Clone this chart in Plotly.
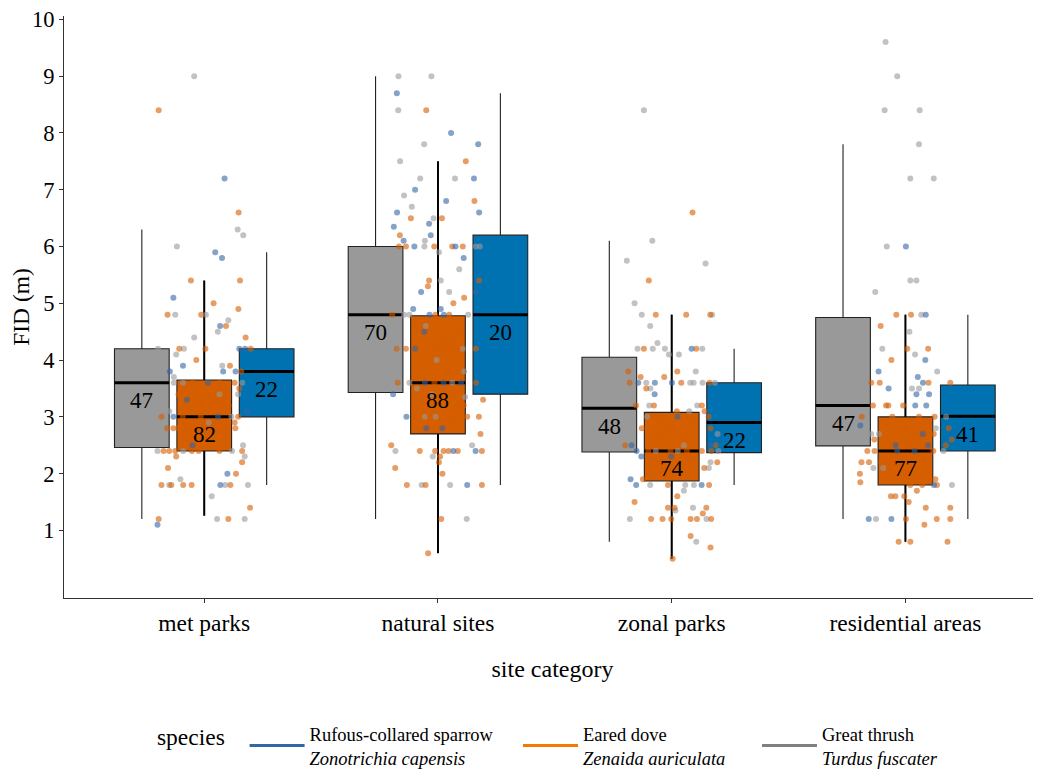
import plotly.graph_objects as go

# ---------------- data ----------------
sites = ["met parks", "natural sites", "zonal parks", "residential areas"]
species = ["Great thrush", "Eared dove", "Rufous-collared sparrow"]
species_latin = ["Turdus fuscater", "Zenaida auriculata", "Zonotrichia capensis"]

# sample sizes (per site, per species)
n_thrush = [47, 70, 48, 47]
n_dove = [82, 88, 74, 77]
n_sparrow = [22, 20, 22, 41]

# box statistics
thrush_q1 = [2.46, 3.43, 2.38, 2.49]
thrush_med = [3.6, 4.8, 3.15, 3.2]
thrush_q3 = [4.2, 6.0, 4.05, 4.75]
thrush_lo = [1.2, 1.2, 0.8, 1.2]
thrush_hi = [6.3, 9.0, 6.1, 7.8]

dove_q1 = [2.4, 2.7, 1.87, 1.8]
dove_med = [3.0, 3.6, 2.4, 2.4]
dove_q3 = [3.65, 4.78, 3.08, 3.0]
dove_lo = [1.26, 0.6, 0.5, 0.8]
dove_hi = [5.4, 7.5, 4.8, 4.8]

sparrow_q1 = [3.0, 3.4, 2.37, 2.4]
sparrow_med = [3.8, 4.8, 2.9, 3.01]
sparrow_q3 = [4.2, 6.2, 3.6, 3.56]
sparrow_lo = [1.8, 1.8, 1.8, 1.2]
sparrow_hi = [5.9, 8.7, 4.2, 4.8]

# jittered observations: (horizontal jitter, FID in m), per site and species
met_thrush = [(-0.043, 9.0), (0.143, 6.3), (0.167, 6.2), (-0.117, 6.0), (-0.124, 4.8), (0.007, 4.8), (0.103, 4.7),
              (0.058, 4.5), (-0.043, 4.4), (-0.198, 4.2), (-0.087, 4.2), (-0.12, 4.1), (0.077, 3.9), (-0.13, 3.7),
              (-0.13, 3.6), (-0.091, 3.6), (0.163, 3.6), (0.065, 3.4), (0.145, 3.4), (-0.15, 3.1), (0.116, 3.0),
              (0.019, 2.9), (0.166, 2.5), (-0.2, 2.4), (-0.09, 2.4), (0.119, 2.4), (0.173, 2.3), (-0.102, 1.9),
              (-0.15, 1.8), (0.09, 1.8), (0.187, 1.8), (0.032, 1.6), (0.055, 1.2), (0.173, 1.2)]
met_dove = [(-0.195, 8.4), (0.147, 6.6), (-0.057, 5.4), (0.153, 5.4), (0.04, 5.0), (0.146, 4.9), (-0.157, 4.8),
            (-0.013, 4.8), (0.093, 4.6), (0.177, 4.4), (-0.107, 4.2), (0.005, 4.2), (0.199, 4.2), (-0.034, 4.0),
            (0.11, 3.9), (0.159, 3.8), (-0.05, 3.6), (0.065, 3.6), (0.13, 3.6), (0.067, 3.5), (0.15, 3.5),
            (-0.11, 3.4), (0.036, 3.3), (-0.01, 3.2), (0.041, 3.2), (0.069, 3.2), (0.104, 3.2), (-0.183, 3.0),
            (-0.092, 3.0), (-0.015, 3.0), (0.145, 3.0), (-0.076, 2.9), (0.13, 2.9), (-0.159, 2.8), (-0.132, 2.8),
            (-0.11, 2.8), (-0.053, 2.8), (0.133, 2.8), (-0.174, 2.4), (-0.15, 2.4), (-0.124, 2.4), (-0.053, 2.4),
            (-0.024, 2.4), (0.065, 2.4), (0.162, 2.4), (-0.12, 2.3), (0.162, 2.2), (-0.155, 2.1), (0.136, 2.0),
            (-0.183, 1.8), (-0.141, 1.8), (-0.09, 1.8), (-0.054, 1.8), (0.112, 1.8), (0.196, 1.4), (-0.195, 1.2),
            (0.103, 1.2)]
met_sparrow = [(0.087, 7.2), (0.047, 5.9), (0.076, 5.8), (-0.132, 5.1), (0.068, 4.6), (0.15, 4.2), (0.175, 4.2),
               (-0.091, 3.9), (-0.147, 3.8), (0.081, 3.8), (0.134, 3.8), (0.016, 3.6), (-0.074, 3.3), (0.184, 3.1),
               (-0.132, 3.0), (0.059, 3.0), (-0.05, 2.5), (0.099, 2.0), (0.069, 1.8), (-0.2, 1.1)]

nat_thrush = [(-0.169, 9.0), (-0.028, 9.0), (-0.17, 8.4), (-0.059, 7.8), (-0.162, 7.5), (-0.076, 7.2), (0.073, 7.2),
              (-0.145, 6.9), (-0.112, 6.7), (-0.019, 6.5), (-0.056, 6.1), (-0.058, 6.0), (0.162, 6.0), (0.179, 6.0),
              (0.004, 5.9), (0.091, 5.6), (0.012, 5.4), (0.048, 5.2), (-0.145, 4.8), (-0.122, 4.8), (0.129, 4.8),
              (-0.052, 4.6), (0.106, 4.2), (-0.006, 4.0), (0.112, 3.8), (-0.122, 3.6), (0.061, 3.6), (-0.09, 3.5),
              (-0.026, 3.4), (0.116, 3.35), (-0.056, 3.0), (-0.011, 3.0), (0.146, 2.5), (-0.182, 2.4), (-0.022, 2.3),
              (-0.07, 1.8), (0.052, 1.8), (0.123, 1.2)]
nat_dove = [(-0.05, 8.4), (0.119, 7.5), (0.156, 6.8), (-0.116, 6.5), (0.017, 6.5), (-0.163, 6.2), (-0.167, 6.0),
            (-0.137, 6.0), (-0.016, 6.0), (0.061, 6.0), (0.106, 6.0), (-0.038, 5.4), (0.176, 5.4), (-0.043, 5.3),
            (0.112, 5.1), (0.066, 5.0), (-0.196, 4.8), (-0.011, 4.8), (0.048, 4.8), (-0.098, 4.6), (0.089, 4.5),
            (0.033, 4.3), (0.055, 4.3), (-0.177, 4.2), (-0.137, 4.2), (0.011, 4.2), (0.083, 4.2), (0.162, 4.2),
            (0.041, 3.8), (-0.172, 3.6), (-0.015, 3.6), (0.163, 3.6), (0.193, 3.3), (0.11, 3.2), (-0.1, 3.0),
            (-0.033, 3.0), (0.045, 3.0), (0.125, 3.0), (0.175, 3.0), (0.182, 2.7), (-0.2, 2.5), (-0.078, 2.4),
            (-0.012, 2.4), (0.024, 2.4), (0.045, 2.4), (0.085, 2.4), (0.188, 2.4), (0.009, 2.3), (0.004, 2.2),
            (-0.183, 2.1), (0.019, 2.0), (-0.133, 1.8), (-0.053, 1.8), (0.188, 1.8), (0.014, 1.2), (-0.042, 0.6)]
nat_sparrow = [(-0.176, 8.7), (0.056, 8.0), (0.172, 7.8), (0.154, 7.2), (-0.098, 7.0), (0.035, 6.8), (-0.175, 6.6),
               (0.176, 6.6), (-0.038, 6.4), (-0.189, 6.35), (-0.031, 6.2), (-0.147, 6.1), (-0.101, 6.0), (0.075, 6.0),
               (0.11, 5.8), (-0.072, 5.2), (0.163, 5.2), (-0.106, 4.9), (0.012, 4.9), (-0.036, 4.8), (0.025, 4.8),
               (-0.059, 4.5), (-0.098, 4.2), (-0.056, 3.6), (0.024, 3.6), (0.099, 3.6), (-0.192, 3.4), (-0.135, 3.0),
               (-0.05, 2.8), (0.019, 2.8), (0.066, 2.4), (0.161, 2.4), (0.125, 1.8)]

zon_thrush = [(-0.119, 8.4), (-0.083, 6.1), (-0.192, 5.75), (0.145, 5.7), (-0.159, 5.0), (-0.128, 4.8), (0.173, 4.8),
              (-0.092, 4.6), (-0.061, 4.3), (-0.146, 4.2), (-0.081, 4.2), (-0.029, 4.2), (0.131, 4.2), (-0.012, 4.1),
              (0.031, 4.1), (0.103, 3.8), (-0.109, 3.6), (0.079, 3.6), (0.094, 3.6), (0.132, 3.6), (0.185, 3.6),
              (-0.091, 3.5), (-0.096, 3.2), (0.109, 3.2), (0.075, 3.1), (-0.105, 3.0), (0.196, 2.7), (0.052, 2.5),
              (-0.068, 2.4), (0.026, 2.4), (0.2, 2.4), (0.166, 2.2), (0.159, 2.1), (-0.092, 1.8), (0.058, 1.8),
              (0.095, 1.8), (0.052, 1.7), (0.016, 1.35), (0.091, 1.4), (-0.179, 1.2), (0.149, 1.2), (0.105, 0.8)]
zon_dove = [(0.089, 6.6), (-0.098, 5.4), (-0.068, 4.8), (0.062, 4.8), (0.165, 4.8), (-0.119, 4.2), (0.105, 4.2),
            (-0.186, 3.8), (0.024, 3.8), (-0.133, 3.7), (-0.032, 3.7), (-0.18, 3.6), (0.041, 3.6), (0.162, 3.6),
            (-0.109, 3.5), (-0.153, 3.2), (-0.076, 3.2), (0.129, 3.2), (0.141, 3.1), (0.022, 3.1), (-0.073, 3.0),
            (-0.039, 3.0), (0.075, 3.0), (0.158, 3.0), (-0.022, 2.8), (0.008, 2.8), (-0.128, 2.8), (0.166, 2.8),
            (-0.066, 2.6), (0.068, 2.6), (-0.199, 2.5), (0.188, 2.5), (-0.1, 2.4), (-0.005, 2.4), (0.065, 2.4),
            (0.129, 2.4), (0.169, 2.4), (0.072, 2.3), (0.195, 2.2), (0.139, 2.1), (-0.123, 1.9), (-0.016, 1.8),
            (0.16, 1.8), (0.024, 1.6), (-0.159, 1.5), (-0.016, 1.4), (0.012, 1.4), (0.148, 1.4), (0.133, 1.3),
            (-0.088, 1.2), (-0.039, 1.2), (-0.002, 1.2), (0.081, 1.2), (0.108, 1.2), (0.169, 1.2), (0.081, 0.9),
            (0.166, 0.7), (0.004, 0.5)]
zon_sparrow = [(0.085, 4.2), (-0.143, 3.6), (-0.072, 3.6), (0.001, 3.6), (-0.073, 3.4), (0.025, 3.0), (-0.172, 2.5),
               (0.169, 2.5), (-0.15, 2.4), (-0.13, 2.3), (-0.002, 2.3), (-0.176, 1.9), (-0.152, 1.8), (0.128, 1.8)]

res_thrush = [(-0.085, 9.6), (-0.035, 9.0), (-0.089, 8.4), (0.061, 8.4), (0.058, 7.8), (0.021, 7.2), (0.121, 7.2),
              (-0.08, 6.0), (0.021, 5.4), (0.047, 5.4), (-0.129, 5.2), (0.068, 4.8), (0.017, 4.5), (-0.099, 4.2),
              (0.041, 4.1), (0.136, 3.8), (0.028, 3.5), (0.058, 3.5), (0.174, 3.0), (0.13, 2.8), (-0.146, 2.7),
              (-0.113, 2.7), (0.163, 2.4), (-0.137, 2.1), (-0.095, 2.1), (0.199, 1.8), (-0.126, 1.2)]
res_dove = [(-0.039, 4.8), (0.024, 4.8), (-0.106, 4.6), (0.008, 4.2), (0.097, 4.2), (-0.06, 4.0), (-0.146, 3.6),
            (-0.11, 3.6), (0.099, 3.6), (0.192, 3.6), (-0.139, 3.2), (-0.083, 3.2), (-0.073, 3.2), (-0.01, 3.2),
            (-0.187, 3.0), (-0.056, 3.0), (0.058, 3.0), (0.125, 3.0), (-0.083, 2.9), (0.0, 2.8), (0.185, 2.8),
            (0.121, 2.7), (0.198, 2.6), (-0.133, 2.6), (-0.064, 2.5), (0.012, 2.5), (0.173, 2.5), (-0.163, 2.4),
            (-0.132, 2.4), (0.119, 2.4), (-0.188, 2.2), (-0.156, 2.2), (-0.103, 2.2), (-0.066, 2.2), (0.082, 2.25),
            (-0.195, 2.0), (0.128, 1.9), (-0.193, 1.85), (0.021, 1.8), (0.072, 1.8), (0.135, 1.8), (0.049, 1.7),
            (-0.062, 1.6), (-0.043, 1.6), (-0.005, 1.6), (0.014, 1.5), (0.087, 1.4), (0.192, 1.4), (0.002, 1.2),
            (0.134, 1.2), (0.192, 1.2), (0.081, 1.1), (-0.029, 0.8), (0.021, 0.8), (0.18, 0.8)]
res_sparrow = [(0.002, 6.0), (0.087, 4.8), (0.085, 4.0), (-0.115, 3.8), (0.053, 3.7), (0.075, 3.6), (-0.072, 3.5),
               (0.047, 3.4), (0.101, 3.4), (0.042, 3.2), (0.089, 3.2), (-0.193, 2.85), (0.074, 2.7), (-0.042, 2.5),
               (0.097, 2.5), (-0.035, 2.4), (0.039, 2.4), (0.122, 1.8), (-0.157, 1.2), (-0.06, 1.2)]

y_ticks = [1, 2, 3, 4, 5, 6, 7, 8, 9, 10]

# ---------------- styling ----------------
FONT = "Liberation Serif, Times New Roman, serif"
box_fill = {"thrush": "#999999", "dove": "#D55E00", "sparrow": "#0072B2"}
point_col = {"thrush": "#999999", "dove": "#D55E00", "sparrow": "#3465A4"}
legend_col = {"thrush": "#808080", "dove": "#F57900", "sparrow": "#3465A4"}
dodge = 0.267
box_w = 0.234

site_pos = [1, 2, 3, 4]

specs = [
    ("thrush", -dodge, thrush_q1, thrush_med, thrush_q3, thrush_lo, thrush_hi, n_thrush),
    ("dove", 0.0, dove_q1, dove_med, dove_q3, dove_lo, dove_hi, n_dove),
    ("sparrow", dodge, sparrow_q1, sparrow_med, sparrow_q3, sparrow_lo, sparrow_hi, n_sparrow),
]

fig = go.Figure()

# boxes
for key, off, q1, med, q3, lo, hi, n in specs:
    xs = [p + off for p in site_pos]
    fig.add_trace(go.Box(
        x=xs, q1=q1, median=med, q3=q3, lowerfence=lo, upperfence=hi,
        width=box_w, fillcolor=box_fill[key],
        line=dict(color="#222222", width=1.1), whiskerwidth=0,
        boxpoints=False, showlegend=False, hoverinfo="skip",
    ))

# thicker whiskers for the dove boxes
wx, wy = [], []
for i, p in enumerate(site_pos):
    wx += [p, p, None, p, p, None]
    wy += [dove_q3[i], dove_hi[i], None, dove_q1[i], dove_lo[i], None]
fig.add_trace(go.Scatter(x=wx, y=wy, mode="lines", line=dict(color="black", width=2),
                         showlegend=False, hoverinfo="skip"))

# thick median lines
for key, off, q1, med, q3, lo, hi, n in specs:
    mx, my = [], []
    for i, p in enumerate(site_pos):
        c = p + off
        mx += [c - box_w / 2, c + box_w / 2, None]
        my += [med[i], med[i], None]
    fig.add_trace(go.Scatter(x=mx, y=my, mode="lines", line=dict(color="black", width=3),
                             showlegend=False, hoverinfo="skip"))

# jittered points
obs = {
    "thrush": [met_thrush, nat_thrush, zon_thrush, res_thrush],
    "dove": [met_dove, nat_dove, zon_dove, res_dove],
    "sparrow": [met_sparrow, nat_sparrow, zon_sparrow, res_sparrow],
}
for key in ["thrush", "dove", "sparrow"]:
    px, py = [], []
    for p, pts in zip(site_pos, obs[key]):
        for dx, v in pts:
            px.append(p + dx)
            py.append(v)
    fig.add_trace(go.Scatter(x=px, y=py, mode="markers",
                             marker=dict(color=point_col[key], size=6, opacity=0.6, line=dict(width=0)),
                             showlegend=False, hoverinfo="skip"))

# legend entries (line keys), one legend box per species
leg = [("sparrow", 2, "legend"), ("dove", 1, "legend2"), ("thrush", 0, "legend3")]
for key, idx, lg in leg:
    fig.add_trace(go.Scatter(x=[None], y=[None], mode="lines", legend=lg,
                             line=dict(color=legend_col[key], width=3),
                             name=f"{species[idx]}<br><i>{species_latin[idx]}</i>"))

# sample size labels
for key, off, q1, med, q3, lo, hi, n in specs:
    for i, p in enumerate(site_pos):
        fig.add_annotation(x=p + off, y=med[i], text=str(n[i]), showarrow=False,
                           yshift=-18, font=dict(family=FONT, size=23, color="black"))

leg_common = dict(orientation="h", y=-0.254, yanchor="middle", xanchor="left",
                  font=dict(family=FONT, size=18.5, color="black"), itemwidth=55,
                  bgcolor="rgba(0,0,0,0)")

# The page body adds an 8 px offset; the figure covers the visible window from there on.
fig.update_layout(
    width=1033, height=761,
    margin=dict(l=56, r=0, t=8, b=171, autoexpand=False),
    paper_bgcolor="white", plot_bgcolor="white",
    font=dict(family=FONT, size=22, color="black"),
    boxmode="overlay",
    showlegend=True,
    legend=dict(x=0.0931, title=dict(text="species\u00a0\u00a0", side="left", font=dict(size=23.5)),
                **leg_common),
    legend2=dict(x=0.4647, **leg_common),
    legend3=dict(x=0.7093, **leg_common),
    xaxis=dict(range=[0.4, 4.58], tickvals=site_pos, ticktext=sites, showline=True, automargin=False,
               linecolor="#333333", linewidth=1, ticks="outside", ticklen=4, tickcolor="#333333",
               showgrid=False, zeroline=False, tickfont=dict(size=23.5), ticklabelstandoff=0,
               title=dict(text="site category", font=dict(size=24), standoff=24)),
    yaxis=dict(range=[-0.19, 10.06], tickvals=y_ticks, showline=True, linecolor="#333333", linewidth=1,
               automargin=False, ticks="outside", ticklen=4, tickcolor="#333333", showgrid=False,
               zeroline=False, tickfont=dict(size=22.5), ticklabeloverflow="allow",
               title=dict(text="FID (m)", font=dict(size=23.5), standoff=14)),
)

fig.write_html("out.html")
